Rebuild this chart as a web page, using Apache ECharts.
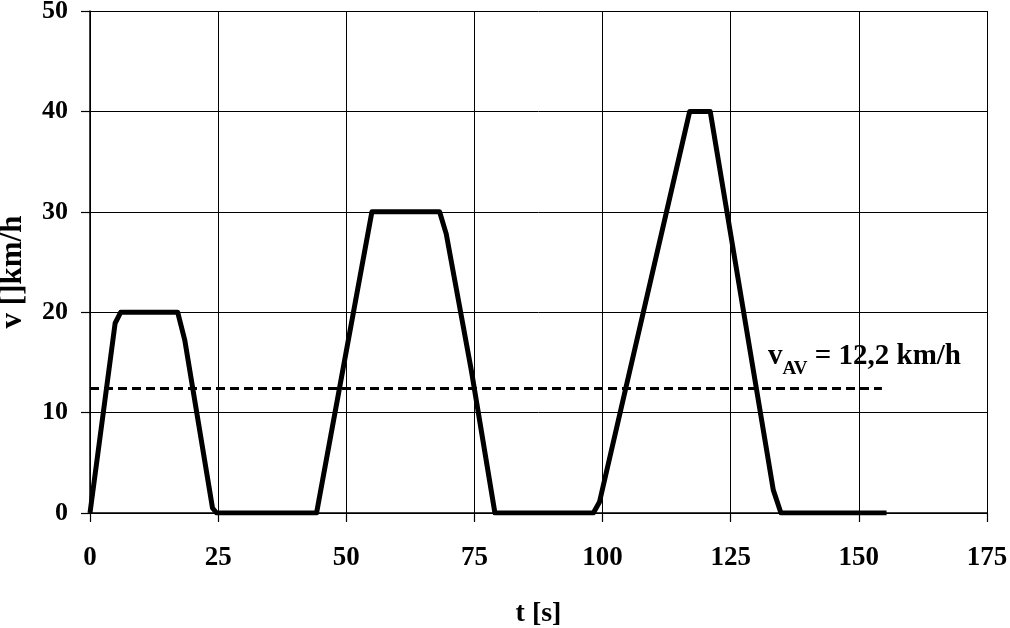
<!DOCTYPE html>
<html>
<head>
<meta charset="utf-8">
<script src="https://cdn.jsdelivr.net/npm/echarts@6/dist/echarts.min.js"></script>
<style>
  html, body { margin: 0; padding: 0; background: #fff; }
  #chart { width: 1010px; height: 628px; }
</style>
</head>
<body>
<div id="chart"></div>
<script>
  // speed profile
  var timeS = [0, 4.9, 6.0, 17.1, 18.5, 23.9, 24.7, 44.2, 55.0, 68.2, 69.5, 74.4, 79.0, 98.2, 99.4, 117.0, 121.0, 133.3, 134.8, 155.4];
  var speed = [0, 18.9, 20, 20, 17.2, 0.5, 0, 0, 30, 30, 27.8, 14.2, 0, 0, 1.1, 40, 40, 2.3, 0, 0];
  // average speed line
  var avgTime = [0, 154.5];
  var avgSpeed = [12.4, 12.4];
  var xTicks = [0, 25, 50, 75, 100, 125, 150, 175];
  var yTicks = [0, 10, 20, 30, 40, 50];

  var font = '"Liberation Serif", "Times New Roman", serif';

  var profile = timeS.map(function (t, i) { return [t, speed[i]]; });
  var avg = avgTime.map(function (t, i) { return [t, avgSpeed[i]]; });

  var chart = echarts.init(document.getElementById('chart'));
  var option = {
    animation: false,
    grid: { left: 90, right: 23, top: 11, bottom: 115, outerBoundsMode: 'none', containLabel: false },
    xAxis: {
      type: 'value',
      min: xTicks[0],
      max: xTicks[xTicks.length - 1],
      interval: 25,
      name: 't [s]',
      nameLocation: 'middle',
      nameGap: 87,
      nameTextStyle: { fontFamily: font, fontWeight: 'bold', fontSize: 28, color: '#000' },
      axisLine: { onZero: false, lineStyle: { color: '#000', width: 1.5 } },
      axisTick: { show: true, inside: false, length: 9, lineStyle: { color: '#000', width: 1.2 } },
      axisLabel: { margin: 32, fontFamily: font, fontWeight: 'bold', fontSize: 27, color: '#000' },
      splitLine: { show: true, lineStyle: { color: '#000', width: 1 } }
    },
    yAxis: {
      type: 'value',
      min: yTicks[0],
      max: yTicks[yTicks.length - 1],
      interval: 10,
      name: 'v []km/h',
      nameLocation: 'middle',
      nameGap: 62,
      nameTextStyle: { fontFamily: font, fontWeight: 'bold', fontSize: 31, color: '#000', padding: [0, 20, 0, 0] },
      axisLine: { show: true, lineStyle: { color: '#000', width: 1.5 } },
      axisTick: { show: true, inside: false, length: 9, lineStyle: { color: '#000', width: 1.2 } },
      axisLabel: { margin: 22, fontFamily: font, fontWeight: 'bold', fontSize: 26, color: '#000' },
      splitLine: { show: true, lineStyle: { color: '#000', width: 1 } }
    },
    series: [
      {
        name: 'v',
        type: 'line',
        data: profile,
        symbol: 'none',
        lineStyle: { color: '#000', width: 5, join: 'round' },
        z: 3
      },
      {
        name: 'vAV',
        type: 'line',
        data: avg,
        symbol: 'none',
        lineStyle: { color: '#000', width: 3, type: [9, 5] },
        z: 2
      }
    ],
    graphic: [
      {
        type: 'text',
        left: 768,
        top: 342,
        style: {
          text: '{v|v}{s|AV}{v| = 12,2 km/h}',
          rich: {
            v: { fontFamily: font, fontWeight: 'bold', fontSize: 29, fill: '#000', verticalAlign: 'bottom' },
            s: { fontFamily: font, fontWeight: 'bold', fontSize: 19, fill: '#000', padding: [0, 0, -8, 0], verticalAlign: 'bottom' }
          }
        }
      }
    ]
  };
  chart.setOption(option);
</script>
</body>
</html>
